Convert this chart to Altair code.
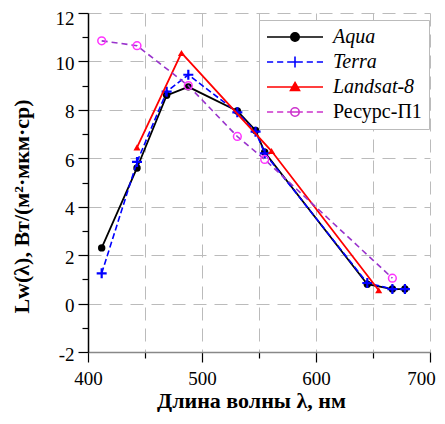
import altair as alt
import pandas as pd

# ---- data ----
names = ["Aqua", "Terra", "Landsat-8", "Ресурс-П1"]
modis_wl = [412, 443, 469, 488, 531, 547, 555, 645, 667, 678]
aqua = [2.3, 5.6, 8.6, 8.95, 7.95, 7.15, 6.25, 0.8, 0.6, 0.6]
terra = [1.25, 5.85, 8.75, 9.45, 7.9, 7.1, 6.2, 0.85, 0.6, 0.6]
landsat_wl = [443, 482, 561, 655]
landsat = [6.45, 10.35, 6.3, 0.55]
resurs_wl = [412, 443, 488, 531, 555, 667]
resurs = [10.85, 10.65, 9.0, 6.9, 5.95, 1.05]
x_ticks = list(range(400, 701, 50))
y_ticks = list(range(-2, 13, 1))

FONT = "Liberation Serif"

def dashed(dash=0.22, gap=0.14, hole=0.2, through=False):
    segs = []
    x = -1.0
    while x < -hole:
        x2 = min(x + dash, -hole)
        segs.append(f"M{x:.3f},0L{x2:.3f},0")
        x = x2 + gap
    if through:
        segs.append(f"M{-hole:.3f},0L{hole:.3f},0")
    x = 1.0
    while x > hole:
        x2 = max(x - dash, hole)
        segs.append(f"M{x2:.3f},0L{x:.3f},0")
        x = x2 - gap
    return "".join(segs)

r = 0.15
circle = f"M{-r},0A{r},{r} 0 1,0 {r},0A{r},{r} 0 1,0 {-r},0Z"
leg_paths = [
    "M-1,0L1,0" + circle,
    dashed() + "M-0.2,0L0.2,0M0,-0.2L0,0.2",
    "M-1,0L1,0M0,-0.16L0.16,0.12L-0.16,0.12Z",
    dashed(through=True) + circle,
]
leg_fill = ["black", "transparent", "#ff0000", "transparent"]
leg_stroke = ["black", "#0000ff", "#ff0000", "#cc33cc"]

def frame(wl, vals, name):
    return pd.DataFrame({"wl": wl, "val": vals, "series": name})

x_enc = alt.X(
    "wl:Q",
    title="Длина волны λ, нм",
    scale=alt.Scale(domain=[400, 700], nice=False, zero=False),
    axis=alt.Axis(
        values=x_ticks,
        labelExpr="datum.value % 100 == 0 ? '' + datum.value : ''",
        labelFlush=False,
        labelOffset=alt.condition("datum.value == 700", alt.value(-9), alt.value(0)),
        tickSize=alt.condition("datum.value % 100 == 0", alt.value(10), alt.value(6)),
        tickColor="black",
        domainColor="#888888",
        grid=True,
        gridColor="#bbbbbb",
        gridDash=[13, 8],
        labelPadding=7,
        titleX=163,
        titleY=48,
        titleBaseline="middle",
    ),
)
y_enc = alt.Y(
    "val:Q",
    title="Lw(λ), Вт/(м²·мкм·ср)",
    scale=alt.Scale(domain=[-2, 12], nice=False, zero=False),
    axis=alt.Axis(
        values=y_ticks,
        labelExpr="datum.value % 2 == 0 ? '' + datum.value : ''",
        labelFlush=False,
        labelOffset=alt.condition("datum.value == 12", alt.value(5), alt.value(2)),
        tickSize=alt.condition("datum.value % 2 == 0", alt.value(10), alt.value(6)),
        tickColor="black",
        domainColor="black",
        grid=True,
        gridColor="#bbbbbb",
        gridDash=[13, 8],
        gridOpacity=alt.condition("datum.value % 2 == 0", alt.value(1), alt.value(0)),
        labelPadding=4,
        titleX=-67,
        titleY=193,
        titleAngle=270,
        titleBaseline="middle",
        titleAlign="center",
    ),
)

d_aqua = frame(modis_wl, aqua, names[0])
d_terra = frame(modis_wl, terra, names[1])
d_land = frame(landsat_wl, landsat, names[2])
d_res = frame(resurs_wl, resurs, names[3])

layers = [
    alt.Chart(d_aqua).mark_line(color="black", strokeWidth=1.8).encode(x=x_enc, y=y_enc),
    alt.Chart(d_aqua).mark_point(shape="circle", filled=True, color="black", size=55, opacity=1).encode(x=x_enc, y=y_enc),
    alt.Chart(d_terra).mark_line(color="#0000ff", strokeWidth=1.6, strokeDash=[6, 3]).encode(x=x_enc, y=y_enc),
    alt.Chart(d_terra).mark_point(shape="M-1,0L1,0M0,-1L0,1", filled=False, color="#0000ff", strokeWidth=2.2, size=100, opacity=1).encode(x=x_enc, y=y_enc),
    alt.Chart(d_land).mark_line(color="#ff0000", strokeWidth=1.8).encode(x=x_enc, y=y_enc),
    alt.Chart(d_land).mark_point(shape="triangle-up", filled=True, color="#ff0000", size=50, opacity=1).encode(x=x_enc, y=y_enc),
    alt.Chart(d_res).mark_line(color="#9933cc", strokeWidth=1.6, strokeDash=[6, 4]).encode(x=x_enc, y=y_enc),
    alt.Chart(d_res).mark_point(shape="circle", filled=False, color="#ff33ff", strokeWidth=1.5, size=60, opacity=1).encode(x=x_enc, y=y_enc),
]

legend = alt.Legend(
    title=None,
    orient="none",
    legendX=171,
    legendY=7,
    symbolSize=3136,
    symbolStrokeWidth=1.6,
    symbolOpacity=1,
    clipHeight=20,
    labelFont=FONT,
    labelFontSize=20,
    labelColor="black",
    labelFontStyle={"expr": "datum.value == 'Ресурс-П1' ? 'normal' : 'italic'"},
    labelOffset=9,
    fillColor="white",
    strokeColor="#bbbbbb",
    padding=7,
    rowPadding=5,
)

leg_df = pd.DataFrame({"label": names})
leg_layer = (
    alt.Chart(leg_df)
    .mark_point(filled=False, opacity=1, strokeWidth=1.6)
    .encode(
        shape=alt.Shape("label:N", scale=alt.Scale(domain=names, range=leg_paths), legend=legend),
        stroke=alt.Stroke("label:N", scale=alt.Scale(domain=names, range=leg_stroke), legend=legend),
        fill=alt.Fill("label:N", scale=alt.Scale(domain=names, range=leg_fill), legend=legend),
    )
    .transform_filter("false")
)

chart = (
    alt.layer(*layers, leg_layer)
    .properties(
        width=342,
        height=339,
        autosize="none",
        padding={"left": 80, "top": 5, "right": 7, "bottom": 60},
        background="white",
    )
    .configure_view(stroke=None)
    .configure_axis(
        labelFont=FONT,
        labelFontSize=19,
        labelColor="black",
        titleFont=FONT,
        titleFontSize=22,
        titleFontWeight="bold",
        titleColor="black",
        tickWidth=1.2,
        domainWidth=1.5,
    )
)

chart.save("out.html", embed_options={"renderer": "svg", "actions": False})
